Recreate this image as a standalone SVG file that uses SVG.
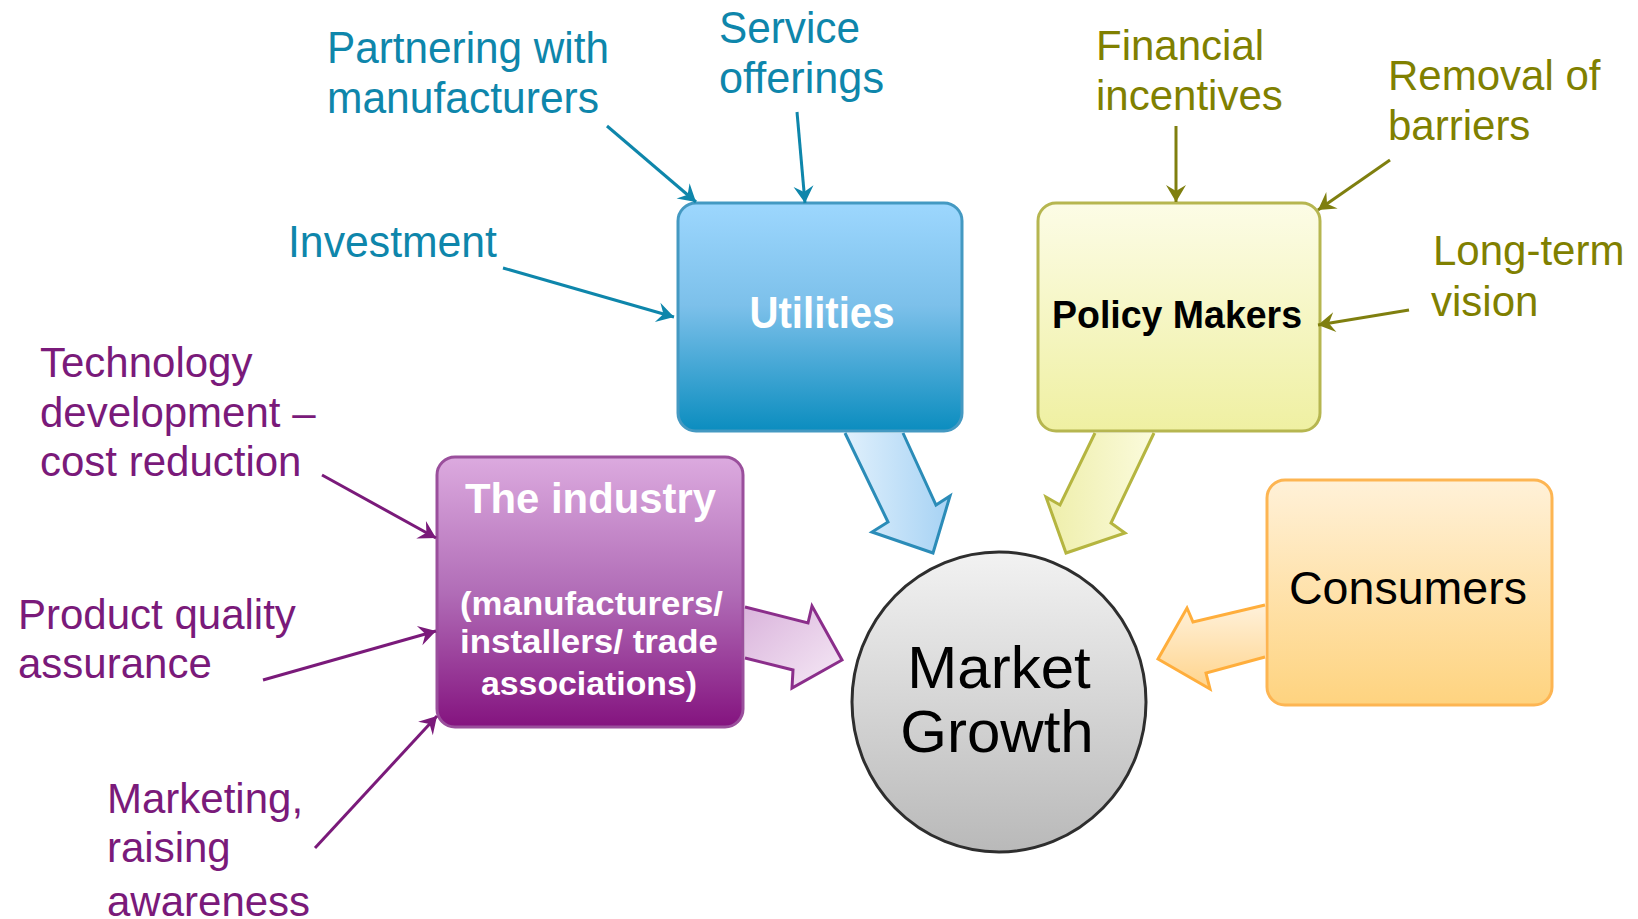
<svg xmlns="http://www.w3.org/2000/svg" width="1638" height="919" viewBox="0 0 1638 919">
<defs>
<linearGradient id="gU" x1="0" y1="0" x2="0" y2="1"><stop offset="0" stop-color="#9dd7fe"/><stop offset="0.45" stop-color="#7cc0ea"/><stop offset="1" stop-color="#0b8dbf"/></linearGradient>
<linearGradient id="gP" x1="0" y1="0" x2="0" y2="1"><stop offset="0" stop-color="#fcfce6"/><stop offset="1" stop-color="#eff0a2"/></linearGradient>
<linearGradient id="gI" x1="0" y1="0" x2="0" y2="1"><stop offset="0" stop-color="#dcaadf"/><stop offset="0.5" stop-color="#b16db7"/><stop offset="1" stop-color="#84137f"/></linearGradient>
<linearGradient id="gC" x1="0" y1="0" x2="0" y2="1"><stop offset="0" stop-color="#fff1d8"/><stop offset="1" stop-color="#fed37f"/></linearGradient>
<linearGradient id="gM" x1="0" y1="0" x2="0" y2="1"><stop offset="0" stop-color="#f2f2f2"/><stop offset="1" stop-color="#b9b9b9"/></linearGradient>
<linearGradient id="aU" x1="0" y1="0" x2="1" y2="0"><stop offset="0" stop-color="#e0f0fc"/><stop offset="1" stop-color="#a6d2f4"/></linearGradient>
<linearGradient id="aP" x1="0" y1="0" x2="1" y2="0"><stop offset="0" stop-color="#eeeeaa"/><stop offset="1" stop-color="#fbfbdc"/></linearGradient>
<linearGradient id="aI" x1="0" y1="0" x2="1" y2="1"><stop offset="0" stop-color="#dab4dc"/><stop offset="1" stop-color="#f6eaf6"/></linearGradient>
<linearGradient id="aC" x1="0" y1="0" x2="0" y2="1"><stop offset="0" stop-color="#fff1da"/><stop offset="1" stop-color="#ffd48c"/></linearGradient>
<marker id="mU" markerUnits="userSpaceOnUse" markerWidth="20" markerHeight="24" viewBox="-18 -12 20 24" refX="0" refY="0" orient="auto"><path d="M0,0 L-17,-10 L-11,0 L-17,10 Z" fill="#0e86ab"/></marker>
<marker id="mP" markerUnits="userSpaceOnUse" markerWidth="20" markerHeight="24" viewBox="-18 -12 20 24" refX="0" refY="0" orient="auto"><path d="M0,0 L-17,-10 L-11,0 L-17,10 Z" fill="#7f7f0f"/></marker>
<marker id="mI" markerUnits="userSpaceOnUse" markerWidth="20" markerHeight="24" viewBox="-18 -12 20 24" refX="0" refY="0" orient="auto"><path d="M0,0 L-17,-10 L-11,0 L-17,10 Z" fill="#7a1a7a"/></marker>
</defs>
<style>
text{font-family:"Liberation Sans",Arial,sans-serif}
.lu{fill:#0e86ab;font-size:44px}
.lp{fill:#808000;font-size:42px}
.li{fill:#7a1a7a;font-size:42px}
.cu{stroke:#0e86ab;stroke-width:3;fill:none;marker-end:url(#mU)}
.cp{stroke:#7f7f0f;stroke-width:3;fill:none;marker-end:url(#mP)}
.ci{stroke:#7a1a7a;stroke-width:3;fill:none;marker-end:url(#mI)}
.box{stroke-width:3}
.bw{fill:#ffffff;font-weight:bold}
</style>
<rect width="1638" height="919" fill="#ffffff"/>

<g id="utilities">
<rect class="box" x="678" y="203" width="284" height="228" rx="18" fill="url(#gU)" stroke="#4499c2"/>
<text class="bw" x="822" y="328" font-size="44" text-anchor="middle" textLength="145" lengthAdjust="spacingAndGlyphs">Utilities</text>
</g>
<g id="policy-makers">
<rect class="box" x="1038" y="203" width="282" height="228" rx="18" fill="url(#gP)" stroke="#b6b650"/>
<text x="1052" y="328" font-size="38" font-weight="bold" fill="#000000" textLength="250" lengthAdjust="spacingAndGlyphs">Policy Makers</text>
</g>
<g id="industry">
<rect class="box" x="437" y="457" width="306" height="270" rx="18" fill="url(#gI)" stroke="#9a4f9c"/>
<text class="bw" x="465" y="513" font-size="42" textLength="251" lengthAdjust="spacingAndGlyphs">The industry</text>
<text class="bw" x="460" y="615" font-size="34" textLength="263" lengthAdjust="spacingAndGlyphs">(manufacturers/</text>
<text class="bw" x="460" y="653" font-size="34" textLength="258" lengthAdjust="spacingAndGlyphs">installers/ trade</text>
<text class="bw" x="481" y="695" font-size="34" textLength="216" lengthAdjust="spacingAndGlyphs">associations)</text>
</g>
<g id="consumers">
<rect class="box" x="1267" y="480" width="285" height="225" rx="18" fill="url(#gC)" stroke="#fdb552"/>
<text x="1289" y="604" font-size="46" fill="#000000" textLength="238" lengthAdjust="spacingAndGlyphs">Consumers</text>
</g>
<g id="market-growth">
<ellipse cx="999" cy="702" rx="147" ry="150" fill="url(#gM)" stroke="#2e2e2e" stroke-width="3"/>
<text x="999" y="688" font-size="60" text-anchor="middle" fill="#000000">Market</text>
<text x="997" y="752" font-size="60" text-anchor="middle" fill="#000000">Growth</text>
</g>

<g id="label-partnering"><text class="lu" x="327" y="63" textLength="282" lengthAdjust="spacingAndGlyphs">Partnering with</text><text class="lu" x="327" y="113" textLength="272" lengthAdjust="spacingAndGlyphs">manufacturers</text></g>
<g id="label-service"><text class="lu" x="719" y="43" textLength="141" lengthAdjust="spacingAndGlyphs">Service</text><text class="lu" x="719" y="93" textLength="165" lengthAdjust="spacingAndGlyphs">offerings</text></g>
<g id="label-investment"><text class="lu" x="288" y="257" textLength="209" lengthAdjust="spacingAndGlyphs">Investment</text></g>

<g id="label-financial"><text class="lp" x="1096" y="60">Financial</text><text class="lp" x="1096" y="110">incentives</text></g>
<g id="label-removal"><text class="lp" x="1388" y="90">Removal of</text><text class="lp" x="1388" y="140">barriers</text></g>
<g id="label-longterm"><text class="lp" x="1433" y="265">Long-term</text><text class="lp" x="1431" y="316">vision</text></g>

<g id="label-technology"><text class="li" x="40" y="377">Technology</text><text class="li" x="40" y="427">development –</text><text class="li" x="40" y="476">cost reduction</text></g>
<g id="label-quality"><text class="li" x="18" y="629">Product quality</text><text class="li" x="18" y="678">assurance</text></g>
<g id="label-marketing"><text class="li" x="107" y="813">Marketing,</text><text class="li" x="107" y="862">raising</text><text class="li" x="107" y="916">awareness</text></g>

<g id="connectors">
<path d="M845,433 L888,522 L872,532 L933,553 L950,496 L936,505 L903,433" fill="url(#aU)" stroke="#2b8cb8" stroke-width="3" stroke-linejoin="miter"/>
<path d="M1095,433 L1060,505 L1046,497 L1066,553 L1125,533 L1111,523 L1154,433" fill="url(#aP)" stroke="#b5b540" stroke-width="3"/>
<path d="M745,607 L808,623 L812,606 L842,660 L792,688 L793,670 L745,658" fill="url(#aI)" stroke="#8b2e8b" stroke-width="3"/>
<path d="M1265,605 L1193,622 L1187,608 L1158,659 L1210,689 L1206,673 L1265,657" fill="url(#aC)" stroke="#ffae3c" stroke-width="3"/>
<line class="cu" x1="607" y1="126" x2="696" y2="202"/>
<line class="cu" x1="797" y1="112" x2="805" y2="203"/>
<line class="cu" x1="503" y1="268" x2="674" y2="317"/>
<line class="cp" x1="1176" y1="126" x2="1176" y2="202"/>
<line class="cp" x1="1390" y1="160" x2="1318" y2="210"/>
<line class="cp" x1="1409" y1="310" x2="1318" y2="325"/>
<line class="ci" x1="322" y1="475" x2="436" y2="538"/>
<line class="ci" x1="263" y1="680" x2="436" y2="631"/>
<line class="ci" x1="315" y1="848" x2="437" y2="716"/>
</g>
</svg>
